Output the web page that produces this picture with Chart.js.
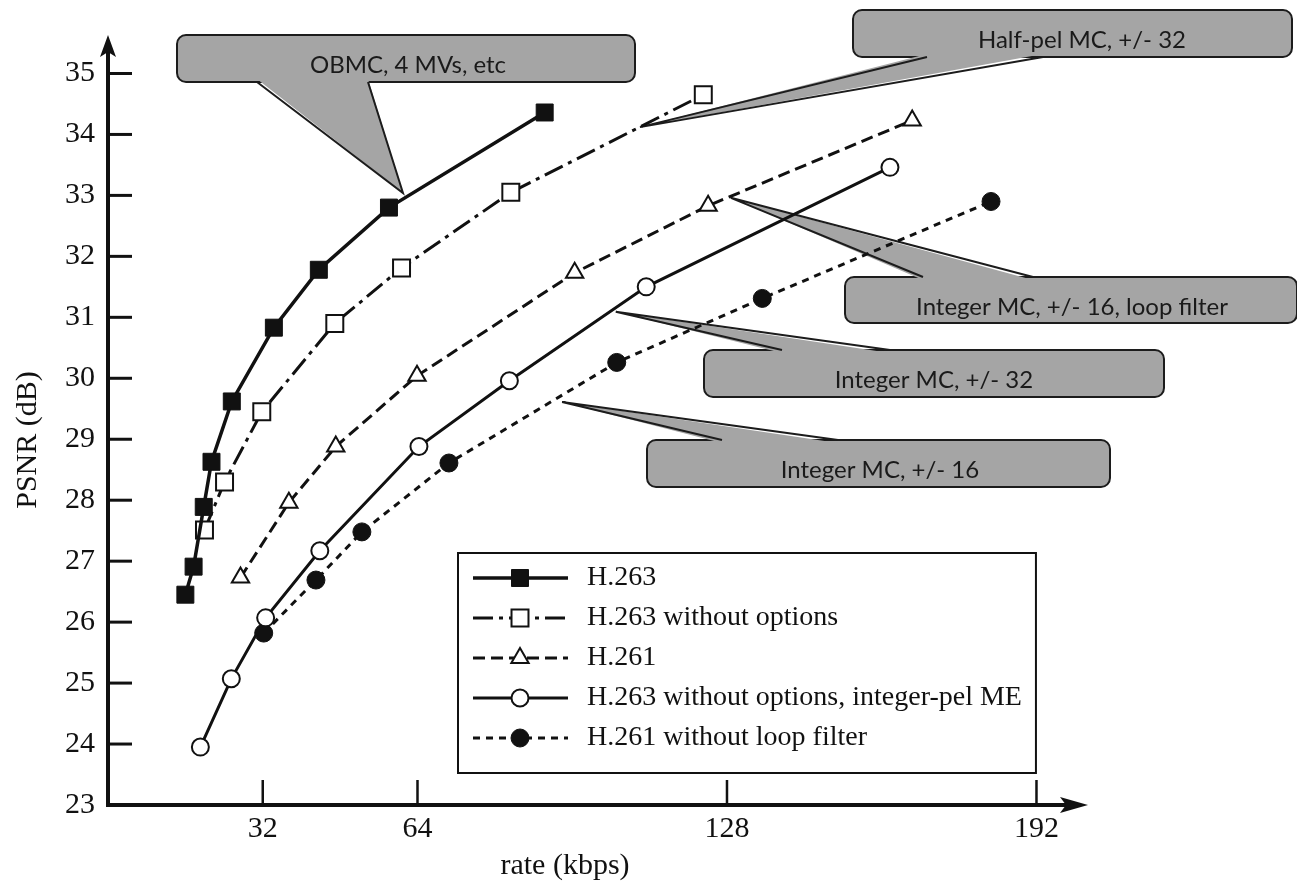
<!DOCTYPE html>
<html>
<head>
<meta charset="utf-8">
<title>PSNR vs rate</title>
<script src="https://cdn.jsdelivr.net/npm/chart.js@4.4.1/dist/chart.umd.min.js"></script>
<style>
  html, body { margin: 0; padding: 0; background: #fff; }
  #wrap { width: 1297px; height: 889px; }
</style>
</head>
<body>
<div id="wrap"><canvas id="rdChart" width="1297" height="889"></canvas></div>
<script>
// values (rate in kbps, PSNR in dB)
const rateH263 = [16.0, 17.7, 19.8, 21.4, 25.6, 34.3, 43.6, 58.1, 90.3];
const psnrH263 = [26.45, 26.91, 27.89, 28.63, 29.62, 30.83, 31.78, 32.80, 34.36];

const rateH263NoOpt = [19.95, 24.1, 31.8, 46.9, 60.7, 83.3, 123.1];
const psnrH263NoOpt = [27.51, 28.30, 29.45, 30.90, 31.81, 33.05, 34.65];

const rateH261 = [27.4, 37.4, 47.1, 63.9, 96.5, 124.1, 166.3];
const psnrH261 = [26.73, 27.96, 28.88, 30.04, 31.73, 32.83, 34.23];

const rateH263Int = [19.1, 25.5, 32.6, 43.8, 64.3, 83.0, 111.3, 161.7];
const psnrH263Int = [23.95, 25.07, 26.07, 27.17, 28.88, 29.96, 31.50, 33.46];

const rateH261NoLoop = [32.2, 43.0, 52.5, 70.5, 105.2, 135.3, 182.6];
const psnrH261NoLoop = [25.82, 26.69, 27.48, 28.61, 30.26, 31.31, 32.90];

const seriesNames = [
    "H.263",
    "H.263 without options",
    "H.261",
    "H.263 without options, integer-pel ME",
    "H.261 without loop filter"
];

const xTickValues = [32, 64, 128, 192];
const yTickValues = [23, 24, 25, 26, 27, 28, 29, 30, 31, 32, 33, 34, 35];

// callout notes: tip is where the pointer touches (data units), box/base are layout
const callouts = [
    { text: "OBMC, 4 MVs, etc", tip: [61.0, 33.04], box: [177, 35, 458, 47], base: [257, 368], side: "bottom", textX: 408 },
    { text: "Half-pel MC, +/- 32", tip: [110.0, 34.12], box: [853, 10, 439, 47], base: [927, 1043], side: "bottom", textX: 1082 },
    { text: "Integer MC, +/- 16, loop filter", tip: [128.8, 32.96], box: [845, 277, 452, 46], base: [923, 1033], side: "top", textX: 1072 },
    { text: "Integer MC, +/- 32", tip: [105.0, 31.09], box: [704, 350, 460, 47], base: [782, 890], side: "top", textX: 934 },
    { text: "Integer MC, +/- 16", tip: [93.9, 29.61], box: [647, 440, 463, 47], base: [722, 838], side: "top", textX: 880 }
];

const serif = '"Liberation Serif", "Times New Roman", serif';
const ink = "#111";

function pts(xs, ys) {
    return xs.map((x, i) => ({ x: x, y: ys[i] }));
}

function roundRectPath(ctx, x, y, w, h, r) {
    ctx.beginPath();
    ctx.moveTo(x + r, y);
    ctx.arcTo(x + w, y, x + w, y + h, r);
    ctx.arcTo(x + w, y + h, x, y + h, r);
    ctx.arcTo(x, y + h, x, y, r);
    ctx.arcTo(x, y, x + w, y, r);
    ctx.closePath();
}

function drawCallouts(chart) {
    const ctx = chart.ctx;
    const xs = chart.scales.x, ys = chart.scales.y;
    callouts.forEach(c => {
        const tx = xs.getPixelForValue(c.tip[0]);
        const ty = ys.getPixelForValue(c.tip[1]);
        const [bx, by, bw, bh] = c.box;
        const edgeY = c.side === "bottom" ? by + bh : by;
        const inset = c.side === "bottom" ? -3 : 3;
        ctx.save();
        ctx.fillStyle = "#a5a5a5";
        ctx.strokeStyle = "#1c1c1c";
        ctx.lineWidth = 2;
        roundRectPath(ctx, bx, by, bw, bh, 9);
        ctx.fill();
        ctx.stroke();
        // pointer, merged into the box
        ctx.beginPath();
        ctx.moveTo(c.base[0], edgeY + inset);
        ctx.lineTo(tx, ty);
        ctx.lineTo(c.base[1], edgeY + inset);
        ctx.closePath();
        ctx.fill();
        ctx.beginPath();
        ctx.moveTo(c.base[0], edgeY);
        ctx.lineTo(tx, ty);
        ctx.lineTo(c.base[1], edgeY);
        ctx.stroke();
        ctx.fillStyle = "#1a1a1a";
        ctx.font = '24px Lato, "Open Sans", sans-serif';
        ctx.textAlign = "center";
        ctx.textBaseline = "middle";
        ctx.fillText(c.text, c.textX, by + bh / 2 + 7);
        ctx.restore();
    });
}

function drawAxisExtras(chart) {
    const ctx = chart.ctx;
    const xs = chart.scales.x, ys = chart.scales.y;
    const a = chart.chartArea;
    ctx.save();
    ctx.strokeStyle = ink;
    ctx.fillStyle = ink;
    // inward ticks
    ctx.lineWidth = 3;
    yTickValues.forEach(v => {
        if (v === ys.min) return;
        const y = ys.getPixelForValue(v);
        ctx.beginPath();
        ctx.moveTo(a.left, y);
        ctx.lineTo(a.left + 24, y);
        ctx.stroke();
    });
    ctx.lineWidth = 2.5;
    xTickValues.forEach(v => {
        const x = xs.getPixelForValue(v);
        ctx.beginPath();
        ctx.moveTo(x, a.bottom);
        ctx.lineTo(x, a.bottom - 25);
        ctx.stroke();
    });
    // arrow heads
    ctx.beginPath();
    ctx.moveTo(a.left, a.top - 8);
    ctx.lineTo(a.left - 8, a.top + 14);
    ctx.lineTo(a.left, a.top + 9);
    ctx.lineTo(a.left + 8, a.top + 14);
    ctx.closePath();
    ctx.fill();
    ctx.beginPath();
    ctx.moveTo(a.right + 8, a.bottom);
    ctx.lineTo(a.right - 20, a.bottom - 8);
    ctx.lineTo(a.right - 14, a.bottom);
    ctx.lineTo(a.right - 20, a.bottom + 8);
    ctx.closePath();
    ctx.fill();
    // axis titles
    ctx.font = "30px " + serif;
    ctx.textAlign = "center";
    ctx.textBaseline = "middle";
    ctx.fillText("rate (kbps)", 565, 866);
    ctx.translate(28, 440);
    ctx.rotate(-Math.PI / 2);
    ctx.fillText("PSNR (dB)", 0, 0);
    ctx.restore();
}

function drawMarker(ctx, ds, x, y) {
    ctx.fillStyle = ds.pointBackgroundColor;
    ctx.strokeStyle = ds.pointBorderColor;
    ctx.lineWidth = ds.pointBorderWidth;
    if (Chart.helpers && Chart.helpers.drawPoint) {
        Chart.helpers.drawPoint(ctx, {
            pointStyle: ds.pointStyle,
            radius: ds.pointRadius,
            borderWidth: ds.pointBorderWidth,
            rotation: 0
        }, x, y);
    }
}

function drawLegend(chart) {
    const ctx = chart.ctx;
    const left = 458, top = 553, rowGap = 40, firstRow = 578;
    const textX = 587;
    ctx.save();
    ctx.font = "28px " + serif;
    let maxW = 0;
    chart.data.datasets.forEach(ds => {
        maxW = Math.max(maxW, ctx.measureText(ds.label).width);
    });
    const right = textX + maxW + 14;
    const bottom = top + 220;
    ctx.fillStyle = "#fff";
    ctx.fillRect(left, top, right - left, bottom - top);
    ctx.strokeStyle = ink;
    ctx.lineWidth = 2;
    ctx.strokeRect(left, top, right - left, bottom - top);

    chart.data.datasets.forEach((ds, i) => {
        const y = firstRow + i * rowGap;
        ctx.save();
        ctx.strokeStyle = ds.borderColor;
        ctx.lineWidth = ds.borderWidth;
        ctx.setLineDash(ds.borderDash || []);
        ctx.beginPath();
        ctx.moveTo(473, y);
        ctx.lineTo(568, y);
        ctx.stroke();
        ctx.setLineDash([]);
        drawMarker(ctx, ds, 520, y);
        ctx.restore();
        ctx.fillStyle = ink;
        ctx.textAlign = "left";
        ctx.textBaseline = "middle";
        ctx.fillText(ds.label, textX, y);
    });
    ctx.restore();
}

const decorPlugin = {
    id: "decor",
    beforeDatasetsDraw(chart) { drawCallouts(chart); },
    afterDraw(chart) {
        drawAxisExtras(chart);
        drawLegend(chart);
    }
};

const ctx = document.getElementById("rdChart").getContext("2d");

new Chart(ctx, {
    type: "scatter",
    data: {
        datasets: [
            {
                label: seriesNames[0],
                data: pts(rateH263, psnrH263),
                showLine: true,
                borderColor: ink,
                borderWidth: 3.5,
                pointStyle: "rect",
                pointRadius: 12,
                pointBackgroundColor: ink,
                pointBorderColor: ink,
                pointBorderWidth: 1
            },
            {
                label: seriesNames[1],
                data: pts(rateH263NoOpt, psnrH263NoOpt),
                showLine: true,
                borderColor: ink,
                borderWidth: 3,
                borderDash: [20, 6, 4, 6],
                pointStyle: "rect",
                pointRadius: 12,
                pointBackgroundColor: "#fff",
                pointBorderColor: ink,
                pointBorderWidth: 2
            },
            {
                label: seriesNames[2],
                data: pts(rateH261, psnrH261),
                showLine: true,
                borderColor: ink,
                borderWidth: 3,
                borderDash: [12, 6],
                pointStyle: "triangle",
                pointRadius: 10,
                pointBackgroundColor: "#fff",
                pointBorderColor: ink,
                pointBorderWidth: 2
            },
            {
                label: seriesNames[3],
                data: pts(rateH263Int, psnrH263Int),
                showLine: true,
                borderColor: ink,
                borderWidth: 3,
                pointStyle: "circle",
                pointRadius: 8.5,
                pointBackgroundColor: "#fff",
                pointBorderColor: ink,
                pointBorderWidth: 2
            },
            {
                label: seriesNames[4],
                data: pts(rateH261NoLoop, psnrH261NoLoop),
                showLine: true,
                borderColor: ink,
                borderWidth: 3,
                borderDash: [7, 6],
                pointStyle: "circle",
                pointRadius: 9,
                pointBackgroundColor: ink,
                pointBorderColor: ink,
                pointBorderWidth: 1
            }
        ]
    },
    options: {
        responsive: false,
        animation: false,
        layout: { padding: { top: 43, right: 217, left: 0, bottom: 0 } },
        plugins: {
            legend: { display: false },
            tooltip: { enabled: false }
        },
        scales: {
            x: {
                type: "linear",
                min: 0,
                max: 201,
                afterBuildTicks: s => { s.ticks = xTickValues.map(v => ({ value: v })); },
                afterFit: s => { s.height = 84; },
                grid: { display: false, drawTicks: false, tickLength: 0 },
                border: { display: true, width: 4, color: ink },
                ticks: {
                    font: { family: serif, size: 30 },
                    color: ink,
                    padding: 6,
                    maxRotation: 0,
                    autoSkip: false
                }
            },
            y: {
                type: "linear",
                min: 23,
                max: 35.5,
                afterBuildTicks: s => { s.ticks = yTickValues.map(v => ({ value: v })); },
                afterFit: s => { s.width = 108; },
                grid: { display: false, drawTicks: false, tickLength: 0 },
                border: { display: true, width: 4, color: ink },
                ticks: {
                    font: { family: serif, size: 30 },
                    color: ink,
                    padding: 13,
                    autoSkip: false
                }
            }
        }
    },
    plugins: [decorPlugin]
});
</script>
</body>
</html>
